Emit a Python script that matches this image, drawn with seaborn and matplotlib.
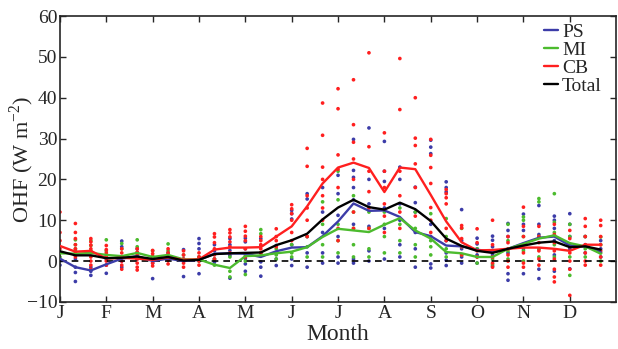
import numpy as np
import pandas as pd
import matplotlib
matplotlib.use("Agg")
import matplotlib.pyplot as plt
import seaborn as sns

# Ten-day means of ocean heat flux (W m-2), 36 steps through the year
ps_mean = [0.6, -1.5, -2.3, -0.8, 0.6, 1.2, 0.0, 0.6, 0.0, 0.3, 1.8, 1.9,
           1.8, 1.0, 2.4, 3.3, 3.4, 6.1, 9.7, 14.1, 12.3, 12.4, 10.8, 7.1,
           6.1, 3.8, 3.6, 2.8, 2.2, 3.0, 4.4, 5.7, 6.0, 3.8, 3.6, 2.2]
mi_mean = [1.9, 1.8, 2.0, 1.5, 1.2, 2.0, 1.0, 1.5, 0.4, 0.4, -0.9, -1.7,
           1.2, 1.4, 1.9, 2.3, 3.4, 5.9, 7.9, 7.5, 7.1, 8.9, 10.5, 7.5,
           5.5, 2.2, 1.9, 1.0, 1.0, 3.0, 4.2, 5.5, 6.3, 4.4, 3.6, 1.8]
cb_mean = [3.7, 2.3, 2.5, 0.6, 0.8, 0.6, 0.3, 0.9, 0.3, 0.4, 2.8, 3.3,
           3.3, 3.4, 6.0, 8.5, 13.4, 19.0, 22.9, 24.1, 22.8, 16.9, 22.9, 22.5,
           16.2, 9.7, 4.6, 2.6, 2.7, 3.0, 3.3, 3.3, 3.0, 2.5, 4.0, 4.0]
total_mean = [2.4, 1.4, 1.4, 0.7, 0.8, 1.1, 0.5, 1.0, 0.1, 0.3, 1.7, 1.9,
              2.0, 2.1, 3.9, 5.1, 6.7, 10.2, 13.1, 15.0, 13.2, 12.6, 14.3, 12.7,
              9.8, 5.5, 3.7, 2.5, 2.0, 3.0, 3.8, 4.5, 4.8, 3.4, 3.6, 2.8]

# Individual-year values for each ten-day step
ps_years = [
    [0.0, -1.0], [0.5, -1.5, -2.8, -5.0], [-1.5, -2.5, -3.5], [0.5, -1.0, -3.0],
    [4.9, 3.5, 0.0, -1.5], [3.0, 2.0, 0.5], [1.0, -0.5, -4.3], [2.0, 0.5],
    [2.8, 0.5, -3.8], [5.5, 4.3, 3.0, 1.0, -3.1], [4.0, 2.5, 0.5, -0.3],
    [5.5, 4.0, 2.6, 1.4, -4.2], [5.6, 4.7, 3.0, 0.6, -0.7, -2.5],
    [5.5, 3.8, 2.0, -0.2, -1.5, -3.7], [3.8, 2.0, 0.5, -1.1],
    [12.4, 11.6, 10.3, 4.0, 0.5, -1.1], [16.5, 15.2, 6.0, 2.0, -1.5],
    [18.0, 12.0, 7.0, 2.0, -0.5], [21.0, 16.5, 11.2, 6.0, 1.0, -0.5],
    [29.8, 22.2, 20.5, 18.0, 15.0, 9.0, 0.5, -0.5], [32.6, 20.0, 14.0, 8.5, 2.5, 0.0],
    [29.3, 22.0, 19.5, 13.0, 8.0, 0.5], [23.0, 20.0, 14.0, 10.0, 4.0, 1.0],
    [18.1, 14.3, 12.0, 7.0, 3.0, -1.5], [29.6, 27.9, 26.3, 9.0, 6.0, -0.7, -1.7],
    [19.4, 18.0, 16.9, 5.0, 2.0, 0.2, -1.1], [12.6, 5.0, 3.0, 1.0, -0.5],
    [5.6, 4.2, 3.0, 1.5, -0.5], [6.1, 5.1, 3.5, 1.5, -1.2],
    [9.2, 7.5, 6.0, 2.0, -3.1, -4.7], [11.5, 9.0, 7.5, 3.0, -3.1],
    [13.6, 9.0, 6.5, 3.0, -2.0, -4.3], [11.0, 10.0, 8.0, 5.0, 1.5, -2.5],
    [11.6, 9.0, 6.0, 3.0, -1.9], [6.0, 4.0, 2.0], [5.0, 3.0, 1.0],
]
mi_years = [
    [2.0, 1.0], [5.2, 4.0, 3.0, 2.5], [5.0, 3.8, 2.5], [5.2, 2.5, 1.0],
    [4.3, 3.0, 1.0], [5.2, 3.5], [2.5, 1.2], [4.2, 2.5], [1.5, 0.0], [1.0, 0.0],
    [-1.0, 0.5], [1.0, -2.5, -3.9], [1.5, 0.0, -3.3], [7.7, 6.7, 2.0],
    [3.0, 1.5, 0.5], [4.0, 2.0, 1.0], [6.0, 3.5, 1.0], [14.5, 9.0, 4.0, 1.0],
    [22.0, 15.0, 9.0, 5.0, 2.0], [16.0, 12.0, 8.0, 4.0, 1.0], [12.0, 8.0, 3.0, 1.0],
    [12.0, 9.0, 6.0, 2.0], [13.0, 9.0, 5.0, 2.0], [12.0, 8.0, 4.0, 1.0],
    [11.6, 5.0, 3.5, 1.5], [10.4, 6.0, 3.0, 1.0], [8.0, 3.5, 1.5],
    [3.0, 1.0, -0.5], [2.5, 0.5, -0.8], [9.0, 5.0, 2.5, 0.5],
    [10.8, 10.0, 6.0, 2.5, 0.0], [15.3, 14.5, 6.0, 3.0, 1.0],
    [16.5, 9.5, 7.0, 4.0, 1.0], [9.0, 6.0, 4.0, 1.0, -3.5], [6.0, 3.0, 1.0],
    [5.9, 4.0, 2.0, 0.0],
]
cb_years = [
    [12.0, 7.0, 5.0, 3.0], [9.2, 7.0, 5.5, 4.0, 3.0, 2.0, 1.0],
    [5.5, 4.7, 3.9, 3.0, 2.2, 1.0, 0.0, -1.0, -2.0], [3.8, 2.8, 2.0, 1.2, 0.0, -1.0],
    [3.0, 2.0, 1.0, 0.0, -1.0, -2.0], [3.0, 2.2, 1.5, 0.5, -0.5, -1.5, -2.2],
    [2.6, 1.8, 1.0, 0.3, -0.5, -1.2], [3.0, 2.0, 1.0, 0.2, -0.7],
    [2.5, 1.5, 0.5, -0.5, -1.5], [2.0, 1.0, 0.0, -1.0],
    [6.7, 5.9, 4.5, 3.0, 1.5, 0.5], [7.7, 6.9, 5.9, 4.7, 3.5, 2.0],
    [8.5, 7.3, 6.1, 5.0, 3.0, 1.0], [6.0, 5.0, 4.0, 3.0, 2.0], [7.9, 6.0, 5.0, 3.5],
    [13.8, 12.8, 11.6, 10.0, 7.0, 5.0], [27.6, 23.2, 16.0, 13.0, 10.0, 6.0],
    [38.7, 30.8, 23.0, 20.0, 16.0, 13.0, 10.0], [42.2, 37.3, 26.0, 22.5, 18.0, 8.0, 5.0],
    [44.4, 33.4, 29.1, 25.0, 20.0, 12.0, 8.0], [51.0, 28.0, 22.0, 17.0, 13.0, 8.0],
    [31.4, 22.0, 18.0, 14.0, 11.0, 7.0], [49.6, 37.1, 22.0, 16.0, 12.0, 8.0],
    [40.0, 30.1, 28.3, 23.8, 18.0, 11.0], [29.8, 25.9, 22.9, 19.0, 13.1, 10.0, 7.0],
    [17.5, 16.5, 15.5, 14.0, 8.0, 5.0], [8.7, 8.1, 5.5, 3.5, 1.5],
    [7.9, 4.5, 2.5, 1.0], [10.0, 4.0, 2.5, 1.0, -0.5, -1.5],
    [6.0, 4.5, 3.0, 1.5, 0.0, -1.5], [13.2, 8.5, 6.0, 4.0, 2.0, -0.5, -1.5],
    [8.5, 6.0, 4.5, 2.5, 0.5, -1.0], [9.0, 6.5, 4.5, 2.5, 0.5, -2.0, -3.9, -5.1],
    [7.5, 5.5, 3.5, 2.0, 0.0, -2.0, -8.4], [10.4, 8.5, 6.0, 4.0, 2.0, 0.0, -1.0],
    [10.0, 8.7, 6.0, 4.0, 2.5, 1.0, -1.0],
]

month_labels = ["J", "F", "M", "A", "M", "J", "J", "A", "S", "O", "N", "D"]
series_names = ["PS", "MI", "CB", "Total"]
palette = {"PS": "#3c3ca8", "MI": "#4cbb2e", "CB": "#ff1f1f", "Total": "#000000"}

n_steps = len(ps_mean)
step_x = np.arange(n_steps) / 3.0  # month units, three steps per month

mean_df = pd.DataFrame({
    "x": np.tile(step_x, 4),
    "OHF": ps_mean + mi_mean + cb_mean + total_mean,
    "series": np.repeat(series_names, n_steps),
})

rows = []
for name, years in [("PS", ps_years), ("MI", mi_years), ("CB", cb_years)]:
    for i, vals in enumerate(years):
        for v in vals:
            rows.append((step_x[i], v, name))
dots_df = pd.DataFrame(rows, columns=["x", "OHF", "series"])

sns.set_style("ticks")
plt.rcParams["font.family"] = ["Liberation Serif", "DejaVu Serif"]
plt.rcParams["mathtext.fontset"] = "custom"
plt.rcParams["mathtext.rm"] = "Liberation Serif"

fig = plt.figure(figsize=(6.18, 3.49), dpi=100)
ax = fig.add_axes([0.097, 0.135, 0.9, 0.819])

sns.scatterplot(data=dots_df, x="x", y="OHF", hue="series", palette=palette,
                s=7, linewidth=0, legend=False, ax=ax, zorder=2)
ax.axhline(0, color="black", lw=1.2, ls=(0, (4, 3)), zorder=3)
sns.lineplot(data=mean_df, x="x", y="OHF", hue="series", palette=palette,
             hue_order=series_names, lw=1.7, ax=ax, zorder=4)

ax.set_xlim(0, 12)
ax.set_ylim(-10, 60)
ax.set_xticks(np.arange(12))
ax.set_xticklabels(month_labels)
ax.set_yticks(np.arange(-10, 61, 10))
ax.tick_params(direction="in", top=True, right=True, length=4, width=1,
               labelsize=14, pad=2)
for s in ax.spines.values():
    s.set_linewidth(1.2)
ax.set_xlabel("Month", fontsize=17, labelpad=2)
ax.set_ylabel("OHF (W m$^{-2}$)", fontsize=16)
ax.yaxis.set_label_coords(-0.043, 0.5)

leg = ax.legend(loc="upper right", frameon=False, fontsize=14,
                handlelength=0.7, handletextpad=0.2, labelspacing=0.02,
                borderaxespad=0.2, bbox_to_anchor=(0.995, 1.015))
for h in leg.get_lines():
    h.set_linewidth(1.7)

fig.savefig("out.png", dpi=100)
